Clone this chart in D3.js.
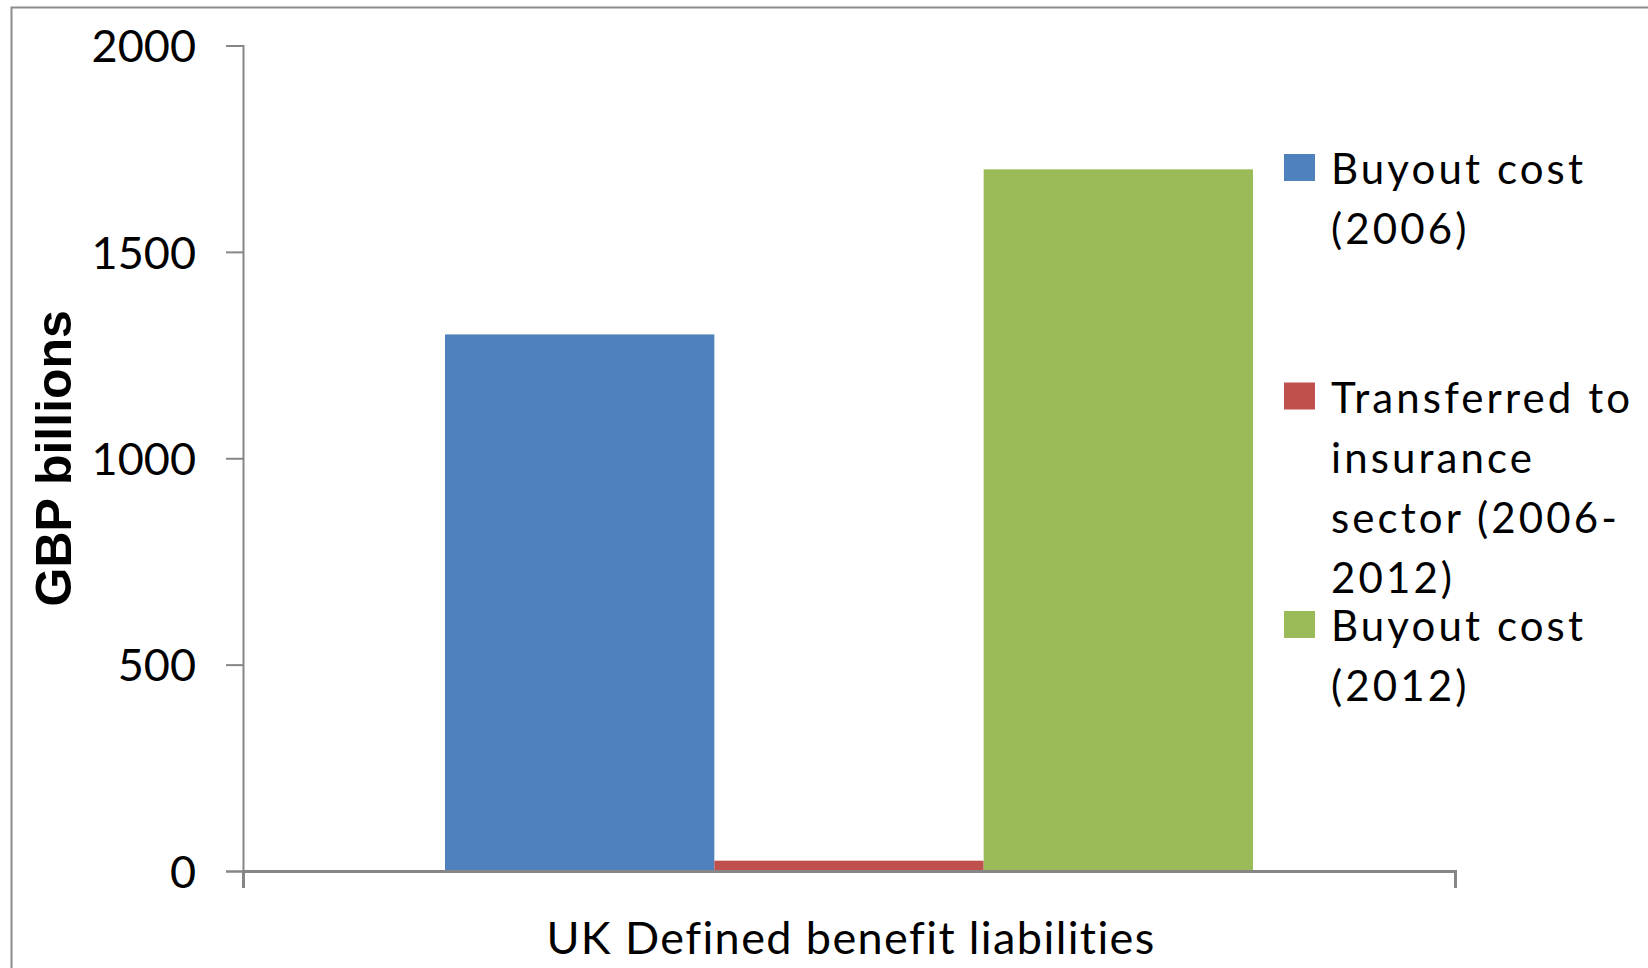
<!DOCTYPE html>
<html>
<head>
<meta charset="utf-8">
<script src="https://cdn.jsdelivr.net/npm/d3@7"></script>
<style>
  html, body { margin: 0; padding: 0; background: #fff; }
  svg { display: block; }
</style>
</head>
<body>
<svg id="chart" width="1648" height="968"></svg>
<script>
// Chart data
const categories = ["UK Defined benefit liabilities"];
const seriesNames = [
  ["Buyout cost", "(2006)"],
  ["Transferred to", "insurance", "sector (2006-", "2012)"],
  ["Buyout cost", "(2012)"]
];
const seriesKeys = ["buyout2006", "transferred", "buyout2012"];
const seriesValues = [1300, 25, 1700];
const seriesColors = ["#4F81BD", "#C0504D", "#9BBB59"];
const yTicks = [0, 500, 1000, 1500, 2000];
const yTitle = "GBP billions";

const svg = d3.select("#chart");
const axisColor = "#868686";

// Outer chart frame
svg.append("rect")
  .attr("x", 11.5).attr("y", 7.5)
  .attr("width", 1700).attr("height", 1000)
  .attr("fill", "none")
  .attr("stroke", "#8c8c8c")
  .attr("stroke-width", 2);

const plot = { left: 243, right: 1455, top: 45.5, bottom: 871 };

const y = d3.scaleLinear().domain([0, 2000]).range([plot.bottom, plot.top]);
const x0 = d3.scaleBand().domain(categories).range([plot.left, plot.right])
  .paddingInner(0).paddingOuter(0.25);
const x1 = d3.scaleBand().domain(seriesKeys).range([0, x0.bandwidth()]).padding(0);

// Bars
const g = svg.append("g");
categories.forEach(cat => {
  g.selectAll("rect.bar")
    .data(seriesKeys.map((k, i) => ({ key: k, value: seriesValues[i], color: seriesColors[i] })))
    .enter().append("rect")
    .attr("class", "bar")
    .attr("x", d => x0(cat) + x1(d.key))
    .attr("width", x1.bandwidth())
    .attr("y", d => y(d.value))
    .attr("height", d => y(0) - y(d.value))
    .attr("fill", d => d.color);
});

// Y axis
const yAxis = d3.axisLeft(y).tickValues(yTicks).tickSize(17).tickPadding(30).tickFormat(d3.format("d"));
const yg = svg.append("g").attr("transform", `translate(${plot.left},0)`).call(yAxis);
yg.select(".domain").attr("stroke", axisColor).attr("stroke-width", 2);
yg.selectAll(".tick line").attr("stroke", axisColor).attr("stroke-width", 2);
yg.selectAll(".tick text")
  .attr("font-family", "Lato, sans-serif")
  .attr("font-size", 45)
  .attr("fill", "#000")
  .attr("dy", "0.36em");

// X axis
const xAxis = d3.axisBottom(d3.scaleLinear().domain([0, 1]).range([plot.left, plot.right]))
  .tickValues([0, 1]).tickSize(17).tickFormat("");
const xg = svg.append("g").attr("transform", `translate(0,${plot.bottom})`).call(xAxis);
xg.select(".domain").attr("stroke", axisColor).attr("stroke-width", 3);
xg.selectAll(".tick line").attr("stroke", axisColor).attr("stroke-width", 2);

// Category label
svg.append("text")
  .attr("x", x0(categories[0]) + x0.bandwidth() / 2 + 2)
  .attr("y", 954)
  .attr("text-anchor", "middle")
  .attr("font-family", "Lato, sans-serif")
  .attr("font-size", 45)
  .attr("letter-spacing", 1.4)
  .attr("fill", "#000")
  .text(categories[0]);

// Y axis title
svg.append("text")
  .attr("transform", `translate(71,${(plot.top + plot.bottom) / 2}) rotate(-90)`)
  .attr("text-anchor", "middle")
  .attr("font-family", "'Liberation Sans', Arial, sans-serif")
  .attr("font-weight", "bold")
  .attr("font-size", 50)
  .attr("fill", "#000")
  .text(yTitle);

// Legend
const legend = svg.append("g").attr("transform", "translate(1284,154)");
const itemStep = 228.5, lineStep = 60;
seriesKeys.forEach((k, i) => {
  const item = legend.append("g").attr("transform", `translate(0,${i * itemStep})`);
  item.append("rect")
    .attr("width", 31).attr("height", 27)
    .attr("fill", seriesColors[i]);
  const t = item.append("text")
    .attr("x", 47).attr("y", 30)
    .attr("font-family", "Lato, sans-serif")
    .attr("font-size", 42)
    .attr("letter-spacing", 3.1)
    .attr("fill", "#000");
  seriesNames[i].forEach((line, j) => {
    t.append("tspan").attr("x", 47).attr("y", 30 + j * lineStep).text(line);
  });
});
</script>
</body>
</html>
